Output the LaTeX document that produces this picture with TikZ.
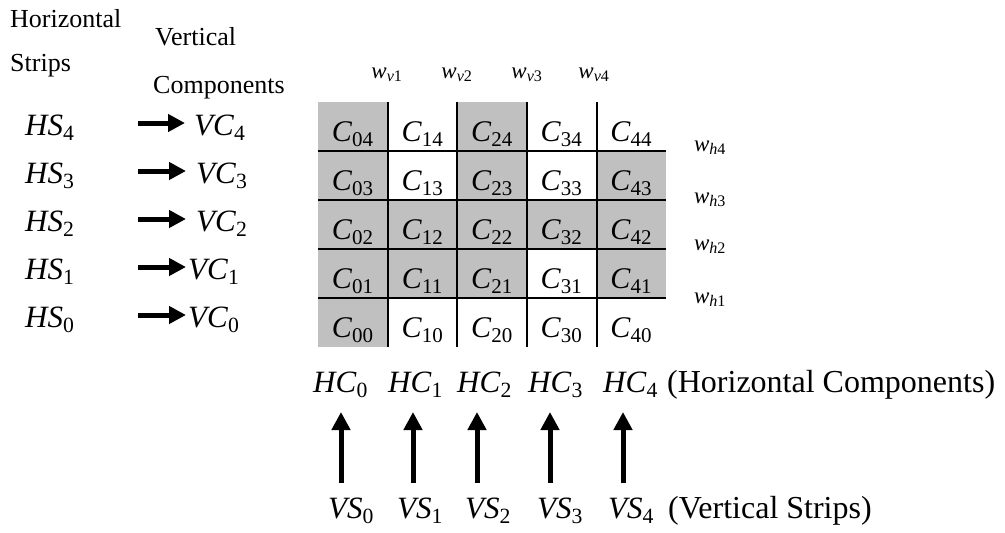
\documentclass[tikz,border=0pt]{standalone}
\usepackage{fontspec}
\setmainfont{Liberation Serif}
\usetikzlibrary{arrows.meta}
\newcommand\lab[2]{\textit{#1}\textsubscript{#2}}
\definecolor{cellgray}{HTML}{C0C0C0}
\tikzset{
  hdr/.style={font=\fontsize{26}{30}\selectfont, inner sep=0pt, anchor=base west},
  big/.style={font=\fontsize{31}{36}\selectfont, inner sep=0pt, anchor=base west},
  bot/.style={font=\fontsize{32}{37}\selectfont, inner sep=0pt, anchor=base west},
  cl/.style={font=\fontsize{30}{34}\selectfont, inner sep=0pt},
  wl/.style={font=\fontsize{23}{27}\selectfont, inner sep=0pt, anchor=base},
  cell/.style={minimum width=69.6pt, minimum height=49pt, inner sep=0pt, draw=none, text depth=0pt},
  grid/.style={line width=2pt, black},
  harrow/.style={line width=5pt, -{Triangle[length=17pt,width=17pt]}},
  varrow/.style={line width=5pt, -{Triangle[length=18pt,width=18pt]}},
}
\begin{document}
\begin{tikzpicture}[x=1pt,y=-1pt]
\useasboundingbox (0,0) rectangle (1005,533);
% headers
\node[hdr] (hz) at (10,27) {Horizontal};
\node[hdr] (st) at (10,71) {Strips};
\node[hdr] (vt) at (155,45) {Vertical};
\node[hdr] (cp) at (153,93) {Components};
% HS / VC rows
\foreach \j/\b/\vx/\g in {4/135/194/9, 3/183/196/10, 2/231/196/10, 1/279/188/2, 0/327/188/2}{
  \node[big] (HS\j) at (25,\b) {\lab{HS}{\j}};
  \node[big] (VC\j) at (\vx,\b) {\lab{VC}{\j}};
  \coordinate (t\j) at (138,\b-12);
  \draw[harrow] (t\j) -- ([xshift=-\g pt]VC\j.west |- t\j);
}
% cells
\foreach \i/\j/\f in {0/4/cellgray,1/4/white,2/4/cellgray,3/4/white,4/4/white,
                      0/3/cellgray,1/3/white,2/3/cellgray,3/3/white,4/3/cellgray,
                      0/2/cellgray,1/2/cellgray,2/2/cellgray,3/2/cellgray,4/2/cellgray,
                      0/1/cellgray,1/1/cellgray,2/1/cellgray,3/1/white,4/1/cellgray,
                      0/0/cellgray,1/0/white,2/0/white,3/0/white,4/0/white}{
  \node[cell, fill=\f] (c\i\j) at ({318+69.6*(\i+0.5)},{102+49*(4-\j+0.5)}) {};
  \node[cl, anchor=base] (l\i\j) at ([yshift=-15pt]c\i\j.center) {\lab{C}{\i\j}};
}
% grid lines
\foreach \i in {0,1,2,3}{
  \draw[grid] (c\i4.north east) -- (c\i0.south east);
}
\foreach \j in {1,2,3,4}{
  \draw[grid] (c0\j.south west) -- (c4\j.south east);
}
% w labels
\foreach \k/\x in {1/387,2/457,3/527,4/594}{
  \node[wl] (wv\k) at (\x,78) {\textit{w}\textsubscript{\textit{v}\k}};
}
\foreach \k/\y in {4/151,3/203,2/250,1/303}{
  \node[wl] (wh\k) at (710,\y) {\textit{w}\textsubscript{\textit{h}\k}};
}
% HC / VS
\foreach \k/\hx/\vx in {0/313/328,1/388/397,2/457/465,3/528/537,4/603/608}{
  \node[big] (HC\k) at (\hx,392) {\lab{HC}{\k}};
  \node[big] (VS\k) at (\vx,518) {\lab{VS}{\k}};
}
\node[bot] (hcl) at (667,392) {(Horizontal Components)};
\node[bot] (vsl) at (668,518) {(Vertical Strips)};
\foreach \k/\x in {0/341,1/413,2/477,3/550,4/623}{
  \coordinate (vb\k) at (\x,483);
  \coordinate (vt\k) at (\x,412);
  \draw[varrow] (vb\k) -- (vt\k);
}
\end{tikzpicture}
\end{document}
